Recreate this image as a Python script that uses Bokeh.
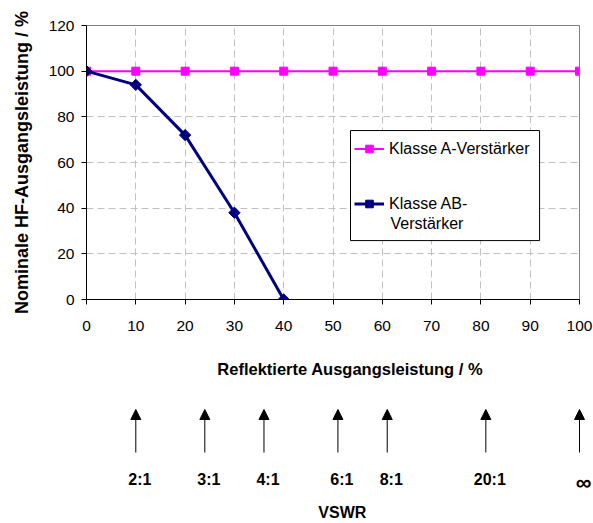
from bokeh.plotting import figure
from bokeh.models import (Range1d, Legend, LegendItem, Arrow, NormalHead,
                          ColumnDataSource, FixedTicker, Label, LabelSet,
                          BoxAnnotation)
from bokeh.layouts import column
from bokeh.embed import file_html
from bokeh.resources import INLINE
from bokeh.core.properties import value

# ---------------- data ----------------
reflected = [0, 10, 20, 30, 40, 50, 60, 70, 80, 90, 100]
class_a = [100, 100, 100, 100, 100, 100, 100, 100, 100, 100, 100]
reflected_ab = [0, 10, 20, 30, 40]
class_ab = [100, 94, 72, 38, 0]
x_ticks = [0, 10, 20, 30, 40, 50, 60, 70, 80, 90, 100]
y_ticks = [0, 20, 40, 60, 80, 100, 120]
vswr_labels = ["2:1", "3:1", "4:1", "6:1", "8:1", "20:1", "\u221e"]
vswr_reflected = [10, 24, 36, 51, 61, 81, 100]

# ---------------- layout constants ----------------
W = 593
L, F, R = 86, 493, 14          # left border, frame width, right border
TOP, FH = 25, 274
H1 = 340
H2 = 183

# ---------------- main chart ----------------
p = figure(width=W, height=H1, x_range=Range1d(0, 100), y_range=Range1d(0, 120),
           output_backend="svg", toolbar_location=None,
           min_border_left=L, min_border_right=R, min_border_top=TOP,
           min_border_bottom=H1 - TOP - FH)
p.outline_line_color = "#808080"
p.outline_line_width = 1

p.xaxis.ticker = FixedTicker(ticks=x_ticks)
p.yaxis.ticker = FixedTicker(ticks=y_ticks)
for ax in (p.xaxis, p.yaxis):
    ax.axis_line_color = "black"
    ax.major_tick_line_color = "black"
    ax.major_tick_out = 5
    ax.major_tick_in = 0
    ax.minor_tick_line_color = None
    ax.major_label_text_font = "Liberation Sans"
    ax.major_label_text_font_size = "15.5px"
    ax.major_label_text_color = "black"
p.xaxis.major_label_standoff = 16
p.yaxis.major_label_standoff = 7

p.yaxis.axis_label = "Nominale HF-Ausgangsleistung / %"
p.yaxis.axis_label_text_font = "Liberation Sans"
p.yaxis.axis_label_text_font_style = "bold"
p.yaxis.axis_label_text_font_size = "18px"
p.yaxis.axis_label_text_color = "black"
p.yaxis.axis_label_standoff = 14

p.grid.grid_line_color = "#c0c0c0"
p.grid.grid_line_dash = "7 4"
p.grid.grid_line_width = 1

ra = p.line(reflected, class_a, line_color="#ff00ff", line_width=2)
sa = p.scatter(reflected, class_a, marker="square", size=8,
               fill_color="#ff00ff", line_color="#ff00ff")
rb = p.line(reflected_ab, class_ab, line_color="#000080", line_width=3)
sb = p.scatter(reflected_ab, class_ab, marker="square", size=8, angle=0.7854,
               fill_color="#000080", line_color="#000080")

# legend frame (drawn separately so the two-line label can sit under its glyph)
box = BoxAnnotation(left=53.55, right=91.9, top=74.0, bottom=25.8,
                    fill_color="white", fill_alpha=1.0,
                    line_color="black", line_width=1, line_alpha=1.0)
p.add_layout(box)

legend = Legend(items=[
    LegendItem(label="Klasse A-Verst\u00e4rker", renderers=[ra, sa]),
    LegendItem(label="Klasse AB-", renderers=[rb, sb]),
], location=(268, 86))
legend.label_text_font = "Liberation Sans"
legend.label_text_font_size = "16px"
legend.label_text_color = "black"
legend.border_line_color = None
legend.background_fill_alpha = 0
legend.padding = 5
legend.margin = 0
legend.spacing = 36
legend.glyph_width = 30
legend.glyph_height = 19
legend.label_height = 19
legend.label_standoff = 5
p.add_layout(legend)

p.add_layout(Label(x=61.66, y=33.3, text="Verst\u00e4rker",
                   text_font="Liberation Sans", text_font_size="16px",
                   text_color="black", text_align="left", text_baseline="middle"))

# ---------------- lower panel (axis title, VSWR arrows) ----------------
# frame of this panel spans the full width, mapped so that the data units line
# up with the main chart's frame above
px_per_unit = F / 100.0
x0 = -L / px_per_unit
x1 = 100 + R / px_per_unit
p2 = figure(width=W, height=H2, x_range=Range1d(x0, x1), y_range=Range1d(H2, 0),
            output_backend="svg", toolbar_location=None,
            x_axis_type=None, y_axis_type=None, min_border=0)
p2.frame_align = False
p2.grid.visible = False
p2.outline_line_color = None

p2.add_layout(Label(x=53.5, y=28, text="Reflektierte Ausgangsleistung / %",
                    text_font="Liberation Sans", text_font_style="bold",
                    text_font_size="16.5px", text_color="black",
                    text_align="center", text_baseline="middle"))

src = ColumnDataSource(dict(x=vswr_reflected, label=vswr_labels))
p2.add_layout(Arrow(end=NormalHead(size=10, fill_color="black", line_color="black",
                                   line_width=1),
                    x_start="x", y_start=112, x_end="x", y_end=69,
                    source=src, line_color="black", line_width=1))

ratio_src = ColumnDataSource(dict(x=vswr_reflected[:-1], label=vswr_labels[:-1]))
p2.add_layout(LabelSet(x="x", y=144, text="label", source=ratio_src, x_offset=4,
                       text_font=value("Liberation Sans"), text_font_style="bold",
                       text_font_size="16px", text_align="center",
                       text_baseline="alphabetic", text_color="black"))
p2.add_layout(Label(x=vswr_reflected[-1], y=142, text=vswr_labels[-1], x_offset=4,
                    text_font="Liberation Sans", text_font_style="bold",
                    text_font_size="22px", text_color="black",
                    text_align="center", text_baseline="middle"))

p2.add_layout(Label(x=51.9, y=172, text="VSWR",
                    text_font="Liberation Sans", text_font_style="bold",
                    text_font_size="16px", text_color="black",
                    text_align="center", text_baseline="middle"))

layout = column(p, p2, spacing=0)
open("out.html", "w").write(file_html(layout, INLINE))
